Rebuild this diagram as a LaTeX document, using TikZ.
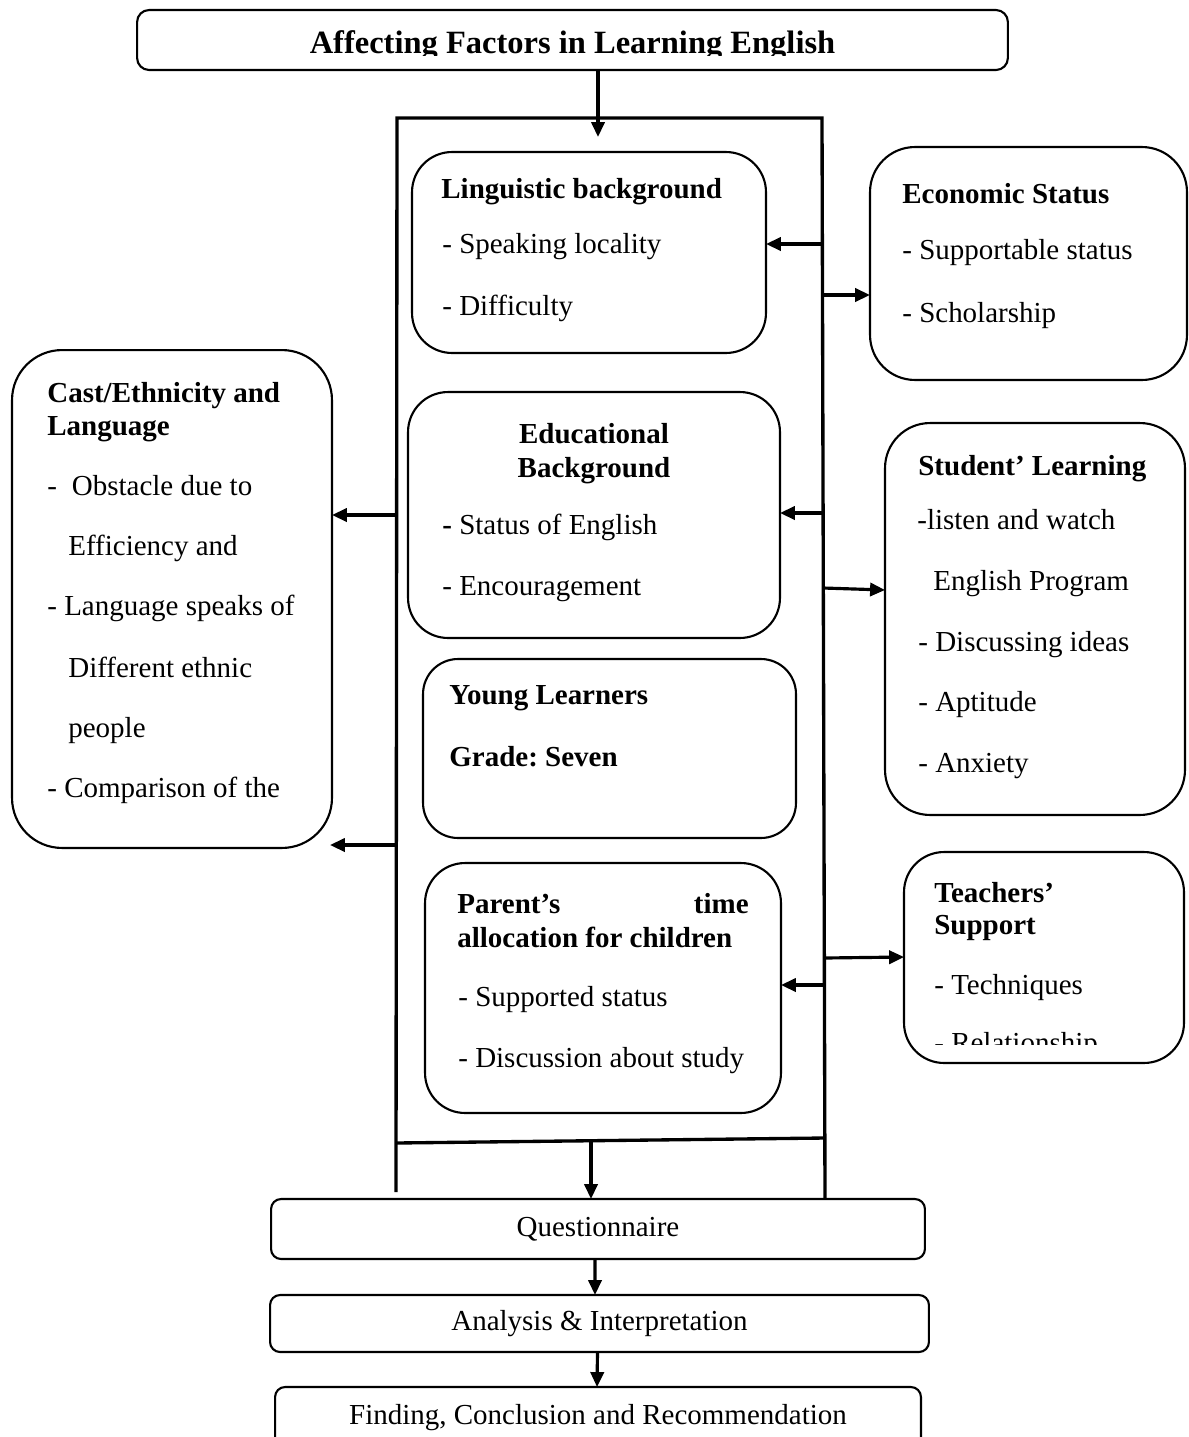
\documentclass[tikz,border=0pt]{standalone}
\usepackage{fontspec}
\setmainfont{Liberation Serif}
\usetikzlibrary{arrows.meta}
\frenchspacing
\tikzset{
  factor/.style={draw, line width=1.2pt, rounded corners=0.8cm, inner sep=0pt, outer sep=0pt},
  stage/.style={draw, line width=1.2pt, rounded corners=0.2cm, inner sep=0pt, outer sep=0pt,
    font=\fontsize{16.5}{19}\selectfont},
  ln/.style={anchor=base west, inner sep=0pt, font=\fontsize{16.5}{19}\selectfont},
  hd/.style={ln, font=\fontsize{16.5}{19}\selectfont\bfseries},
  arr/.style={-{Triangle[length=8.5pt,width=7.5pt]}, line width=1.8pt},
  wall/.style={line width=1.9pt},
}
\begin{document}
\begin{tikzpicture}[x=0.02cm, y=-0.02cm]
    \useasboundingbox (0,0) rectangle (1189,1437);
    \clip (0,0) rectangle (1189,1437);

    % title
    \node[stage, rounded corners=0.24cm, minimum width=17.42cm, minimum height=1.2cm] (title) at (572.5,40) {};
    \begin{scope}
        \clip (137,10) rectangle (1008,55.5);
        \node[anchor=base, inner sep=0pt, font=\fontsize{18.5}{21}\selectfont\bfseries] (titleT) at (572.5,53)
            {Affecting Factors in Learning English};
    \end{scope}

    % frame round the centre column
    \coordinate (fTL) at (397,118);
    \coordinate (fTR) at (822,118);
    \coordinate (fBL) at (396,1192);
    \coordinate (fBR) at (825,1198);
    \coordinate (barL) at (396,1143);
    \coordinate (barR) at (825,1138);
    \draw[wall] (fBL) -- (fTL) -- (fTR) -- (fBR);
    \draw[wall] (barL) -- (barR);

    % factor boxes
    \node[factor, minimum width=7.08cm, minimum height=4.02cm] (ling) at (589,252.5) {};
    \node[factor, minimum width=6.34cm, minimum height=4.66cm, rounded corners=0.9cm] (econ) at (1028.5,263.5) {};
    \node[factor, minimum width=6.4cm, minimum height=9.96cm, rounded corners=1cm] (cast) at (172,599) {};
    \node[factor, minimum width=7.44cm, minimum height=4.92cm] (edu) at (594,515) {};
    \node[factor, minimum width=6.0cm, minimum height=7.84cm, rounded corners=0.9cm] (stud) at (1035,619) {};
    \node[factor, minimum width=7.46cm, minimum height=3.58cm, rounded corners=0.7cm] (young) at (609.5,748.5) {};
    \node[factor, minimum width=7.12cm, minimum height=5.0cm] (parent) at (603,988) {};
    \node[factor, minimum width=5.6cm, minimum height=4.22cm] (teach) at (1044,957.5) {};

    % texts
    \node[hd] (lingH) at (441,198) {Linguistic background};
    \node[ln] (lingA) at (442,253) {- Speaking locality};
    \node[ln] (lingB) at (442,315) {- Difficulty};

    \node[hd] (econH) at (902,203) {Economic Status};
    \node[ln] (econA) at (902,259) {- Supportable status};
    \node[ln] (econB) at (902,322) {- Scholarship};

    \node[hd] (castH) at (47,402) {Cast/Ethnicity and};
    \node[hd] (castH2) at (47,435) {Language};
    \node[ln] (castA) at (47,495) {-\hspace{8.5pt}Obstacle due to};
    \node[ln] (castA2) at (68,555) {Efficiency and};
    \node[ln] (castB) at (47,615) {- Language speaks of};
    \node[ln] (castB2) at (68,677) {Different ethnic};
    \node[ln] (castB3) at (68,737) {people};
    \node[ln] (castC) at (47,797) {- Comparison of the};

    \node[hd, anchor=base] (eduH) at (594,443) {Educational};
    \node[hd, anchor=base] (eduH2) at (594,477) {Background};
    \node[ln] (eduA) at (442,534) {{\bfseries -} Status of English};
    \node[ln] (eduB) at (442,595) {- Encouragement};

    \node[hd] (studH) at (918,475) {Student’ Learning};
    \node[ln] (studA) at (917,529) {-listen and watch};
    \node[ln] (studA2) at (933,590) {English Program};
    \node[ln] (studB) at (918,651) {- Discussing ideas};
    \node[ln] (studC) at (918,711) {- Aptitude};
    \node[ln] (studD) at (918,772) {- Anxiety};

    \node[hd] (youngH) at (449,704) {Young Learners};
    \node[hd] (youngG) at (449,766) {Grade: Seven};

    \node[hd] (parH) at (457,913) {Parent’s};
    \node[hd, anchor=base east] (parH2) at (749,913) {time};
    \node[hd] (parH3) at (457,947) {allocation for children};
    \node[ln] (parA) at (458,1006) {- Supported status};
    \node[ln] (parB) at (458,1067) {- Discussion about study};

    \node[hd] (teachH) at (934,902) {Teachers’};
    \node[hd] (teachH2) at (934,934) {Support};
    \node[ln] (teachA) at (934,994) {- Techniques};
    \begin{scope}
        \clip (904,1000) rectangle (1184,1044);
        \node[ln] (teachB) at (934,1052) {- Relationship};
    \end{scope}

    % stages below
    \node[stage, minimum width=13.08cm, minimum height=1.2cm] (quest) at (598,1229) {Questionnaire};
    \node[stage, minimum width=13.18cm, minimum height=1.14cm] (anal) at (599.5,1323.5) {Analysis \& Interpretation};
    \node[stage, minimum width=12.92cm, minimum height=1.26cm] (find) at (598,1418.5) {};
    \node[ln, anchor=base] (findT) at (598,1424) {Finding, Conclusion and Recommendation};

    % arrow points on the frame
    \coordinate (cTop) at (598,118);
    \coordinate (rLing) at (822,244);
    \coordinate (rEcon) at (822,295);
    \coordinate (lCast) at (397,515);
    \coordinate (lCast2) at (396,845);
    \coordinate (rEdu) at (823,513);
    \coordinate (rStud) at (823,588);
    \coordinate (rTeach) at (825,958);
    \coordinate (rPar) at (824,985);
    \coordinate (cBar) at (591,1142);

    % connectors
    \draw[arr] (title.south -| cTop) -- ([yshift=-0.38cm]cTop);
    \draw[arr] (rLing) -- (ling.east |- rLing);
    \draw[arr] (rEcon) -- (econ.west |- rEcon);
    \draw[arr] (lCast) -- (cast.east |- lCast);
    \draw[arr] (lCast2) -- ([xshift=-0.04cm]cast.east |- lCast2);
    \draw[arr] (rEdu) -- (edu.east |- rEdu);
    \draw[arr] (rStud) -- ([yshift=-0.04cm]stud.west |- rStud);
    \draw[arr] (rPar) -- (parent.east |- rPar);
    \draw[arr] (rTeach) -- ([yshift=0.02cm]teach.west |- rTeach);
    \draw[arr] (cBar) -- (quest.north -| cBar);
    \draw[arr] ([xshift=-0.06cm]quest.south) -- ([xshift=-0.09cm]anal.north);
    \draw[arr] ([xshift=-0.04cm]anal.south) -- ([xshift=-0.02cm]find.north);
\end{tikzpicture}
\end{document}
